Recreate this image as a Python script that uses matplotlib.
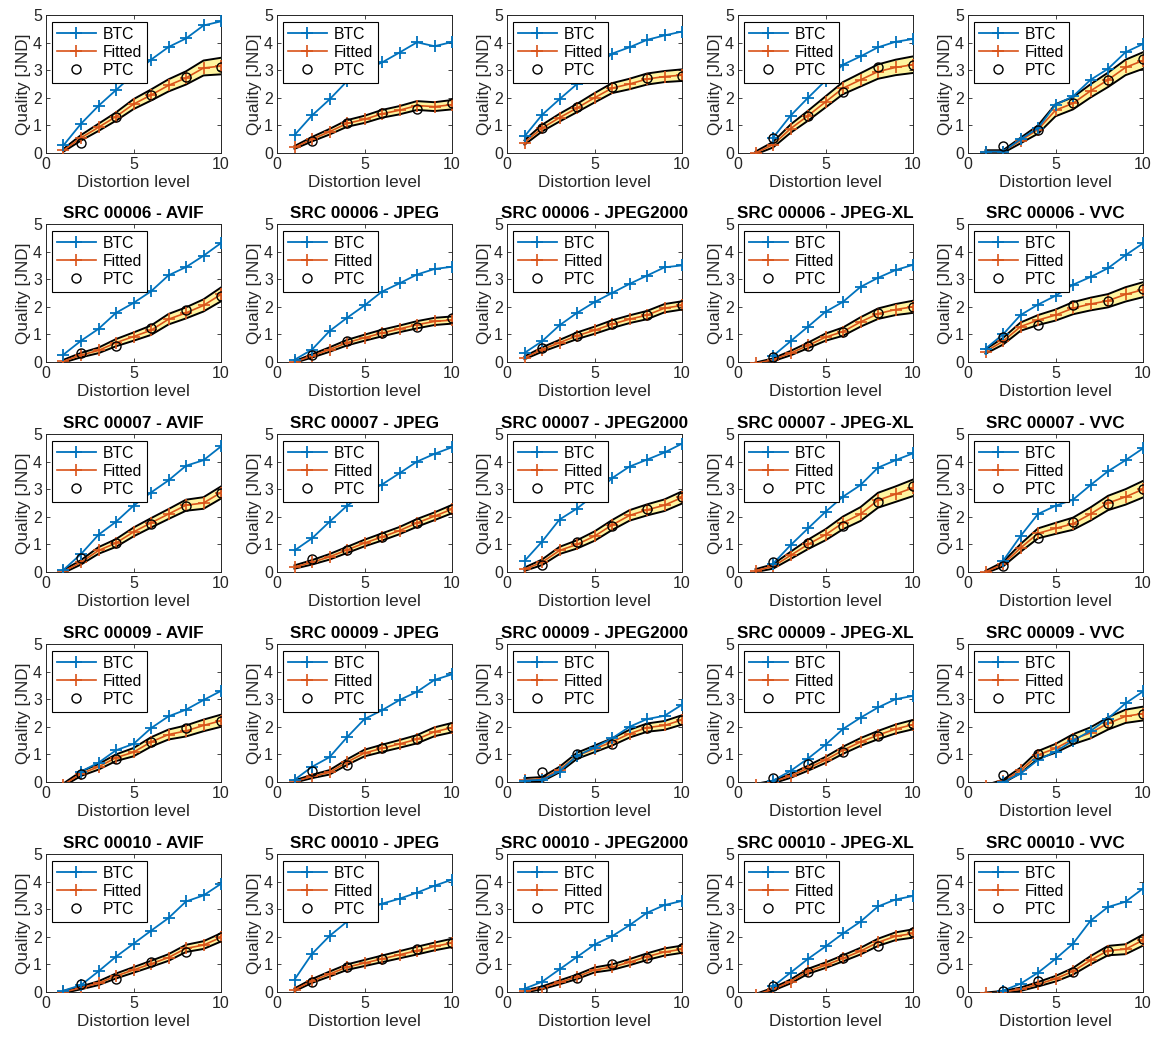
import numpy as np
import matplotlib
matplotlib.use('Agg')
import matplotlib.pyplot as plt

plt.rcParams['font.family'] = ['Liberation Sans', 'DejaVu Sans']

nan = np.nan

# ---------------- data ----------------
sources = [None, '00006', '00007', '00009', '00010']   # top row titles are cropped off
codecs = ['AVIF', 'JPEG', 'JPEG2000', 'JPEG-XL', 'VVC']
levels = [1, 2, 3, 4, 5, 6, 7, 8, 9, 10]
ptc_levels = [2, 4, 6, 8, 10]
x_ticks = [0, 5, 10]
y_ticks = [0, 1, 2, 3, 4, 5]

btc = [
    [[0.28, 1.06, 1.71, 2.28, 2.85, 3.38, 3.84, 4.15, 4.62, 4.77],
     [0.65, 1.36, 1.94, 2.60, 3.00, 3.28, 3.64, 4.01, 3.87, 4.02],
     [0.60, 1.38, 1.95, 2.50, 3.05, 3.60, 3.83, 4.10, 4.26, 4.40],
     [nan, 0.55, 1.35, 2.00, 2.62, 3.20, 3.50, 3.83, 4.03, 4.13],
     [0.05, 0.05, 0.50, 0.90, 1.75, 2.05, 2.65, 3.05, 3.65, 3.95]],
    [[0.27, 0.77, 1.20, 1.78, 2.14, 2.56, 3.14, 3.44, 3.85, 4.31],
     [0.08, 0.45, 1.12, 1.60, 2.05, 2.55, 2.85, 3.17, 3.37, 3.45],
     [0.33, 0.75, 1.33, 1.78, 2.17, 2.50, 2.83, 3.13, 3.43, 3.50],
     [nan, 0.22, 0.75, 1.28, 1.82, 2.18, 2.72, 3.05, 3.33, 3.52],
     [0.48, 1.00, 1.70, 2.08, 2.40, 2.80, 3.08, 3.40, 3.87, 4.30]],
    [[0.08, 0.65, 1.35, 1.82, 2.40, 2.88, 3.32, 3.85, 4.05, 4.55],
     [0.78, 1.22, 1.82, 2.40, 2.85, 3.17, 3.58, 4.00, 4.28, 4.52],
     [0.40, 1.10, 1.90, 2.30, 2.80, 3.40, 3.82, 4.07, 4.33, 4.65],
     [nan, 0.30, 0.97, 1.58, 2.18, 2.73, 3.15, 3.78, 4.05, 4.30],
     [nan, 0.40, 1.30, 2.10, 2.40, 2.62, 3.15, 3.65, 4.05, 4.48]],
    [[nan, 0.38, 0.70, 1.15, 1.38, 1.95, 2.38, 2.62, 2.97, 3.30],
     [0.08, 0.55, 0.90, 1.62, 2.28, 2.60, 2.97, 3.27, 3.70, 3.90],
     [0.05, 0.08, 0.38, 0.95, 1.25, 1.58, 2.00, 2.28, 2.40, 2.80],
     [nan, 0.05, 0.40, 0.85, 1.35, 1.92, 2.33, 2.70, 3.00, 3.12],
     [nan, 0.00, 0.30, 0.80, 1.10, 1.50, 1.85, 2.30, 2.85, 3.28]],
    [[0.05, 0.25, 0.75, 1.28, 1.75, 2.22, 2.68, 3.28, 3.50, 3.92],
     [0.45, 1.38, 2.03, 2.55, 2.95, 3.20, 3.38, 3.60, 3.85, 4.07],
     [0.12, 0.37, 0.82, 1.27, 1.72, 2.02, 2.42, 2.87, 3.15, 3.30],
     [nan, 0.20, 0.70, 1.20, 1.65, 2.12, 2.55, 3.10, 3.35, 3.48],
     [nan, 0.05, 0.30, 0.70, 1.20, 1.75, 2.58, 3.08, 3.27, 3.75]],
]

fitted = [
    [[0.10, 0.55, 0.93, 1.32, 1.77, 2.10, 2.45, 2.72, 3.08, 3.15],
     [0.20, 0.50, 0.77, 1.07, 1.22, 1.42, 1.55, 1.72, 1.68, 1.75],
     [0.38, 0.90, 1.28, 1.63, 2.00, 2.35, 2.50, 2.68, 2.77, 2.82],
     [0.00, 0.30, 0.88, 1.35, 1.85, 2.35, 2.65, 2.95, 3.10, 3.20],
     [0.05, 0.05, 0.45, 0.85, 1.55, 1.80, 2.25, 2.65, 3.10, 3.35]],
    [[0.03, 0.25, 0.42, 0.70, 0.92, 1.15, 1.55, 1.78, 2.05, 2.45],
     [0.00, 0.22, 0.45, 0.70, 0.88, 1.05, 1.20, 1.35, 1.47, 1.52],
     [0.15, 0.45, 0.70, 0.95, 1.15, 1.37, 1.55, 1.70, 1.95, 2.05],
     [-0.05, 0.08, 0.32, 0.60, 0.90, 1.10, 1.45, 1.75, 1.90, 2.00],
     [0.38, 0.75, 1.28, 1.52, 1.70, 1.95, 2.10, 2.22, 2.45, 2.62]],
    [[0.02, 0.35, 0.78, 1.05, 1.45, 1.78, 2.10, 2.42, 2.50, 2.88],
     [0.18, 0.35, 0.55, 0.80, 1.05, 1.27, 1.50, 1.78, 2.02, 2.28],
     [0.10, 0.35, 0.78, 1.00, 1.30, 1.70, 2.05, 2.25, 2.42, 2.70],
     [0.05, 0.20, 0.60, 1.00, 1.35, 1.78, 2.10, 2.60, 2.82, 3.05],
     [0.00, 0.28, 0.87, 1.40, 1.58, 1.75, 2.10, 2.50, 2.72, 3.00]],
    [[-0.10, 0.30, 0.55, 0.88, 1.08, 1.45, 1.72, 1.85, 2.05, 2.22],
     [0.02, 0.20, 0.35, 0.72, 1.05, 1.22, 1.38, 1.55, 1.82, 1.97],
     [0.08, 0.10, 0.45, 0.95, 1.20, 1.45, 1.75, 1.97, 2.05, 2.25],
     [-0.10, 0.00, 0.22, 0.50, 0.80, 1.15, 1.45, 1.70, 1.92, 2.08],
     [-0.15, 0.02, 0.42, 0.98, 1.22, 1.55, 1.78, 2.12, 2.38, 2.48]],
    [[0.00, 0.15, 0.32, 0.58, 0.80, 1.02, 1.25, 1.58, 1.70, 1.98],
     [0.08, 0.40, 0.65, 0.90, 1.05, 1.20, 1.35, 1.50, 1.65, 1.78],
     [0.02, 0.15, 0.35, 0.55, 0.80, 0.90, 1.08, 1.28, 1.45, 1.55],
     [-0.10, 0.10, 0.38, 0.75, 0.97, 1.22, 1.48, 1.80, 2.02, 2.12],
     [-0.05, 0.00, 0.10, 0.28, 0.48, 0.75, 1.15, 1.50, 1.55, 1.88]],
]

ptc = [
    [[0.35, 1.30, 2.10, 2.75, 3.10],
     [0.45, 1.07, 1.45, 1.60, 1.82],
     [0.90, 1.65, 2.38, 2.70, 2.80],
     [0.55, 1.35, 2.20, 3.10, 3.20],
     [0.25, 0.85, 1.80, 2.65, 3.40]],
    [[0.33, 0.58, 1.22, 1.88, 2.40],
     [0.27, 0.75, 1.05, 1.27, 1.60],
     [0.50, 0.95, 1.37, 1.72, 2.08],
     [0.18, 0.58, 1.10, 1.78, 2.00],
     [0.90, 1.35, 2.05, 2.20, 2.63]],
    [[0.50, 1.05, 1.75, 2.40, 2.85],
     [0.48, 0.78, 1.27, 1.77, 2.28],
     [0.27, 1.10, 1.68, 2.28, 2.70],
     [0.37, 1.05, 1.68, 2.55, 3.12],
     [0.22, 1.25, 1.82, 2.48, 3.00]],
    [[0.30, 0.82, 1.45, 1.95, 2.22],
     [0.40, 0.62, 1.25, 1.55, 2.00],
     [0.35, 1.00, 1.38, 1.97, 2.25],
     [0.15, 0.65, 1.10, 1.65, 2.10],
     [0.25, 1.00, 1.55, 2.15, 2.48]],
    [[0.28, 0.48, 1.10, 1.45, 2.00],
     [0.38, 0.90, 1.20, 1.55, 1.78],
     [0.08, 0.50, 1.00, 1.22, 1.60],
     [0.20, 0.72, 1.22, 1.68, 2.18],
     [0.05, 0.40, 0.72, 1.50, 1.92]],
]

band_halfwidth = [
    [[0.05, 0.10, 0.13, 0.15, 0.18, 0.20, 0.22, 0.24, 0.27, 0.30],
     [0.05, 0.08, 0.10, 0.12, 0.13, 0.14, 0.15, 0.16, 0.16, 0.17],
     [0.08, 0.12, 0.14, 0.15, 0.17, 0.18, 0.19, 0.20, 0.20, 0.21],
     [0.05, 0.10, 0.15, 0.18, 0.20, 0.22, 0.24, 0.26, 0.28, 0.30],
     [0.05, 0.05, 0.10, 0.15, 0.22, 0.22, 0.24, 0.26, 0.28, 0.30]],
    [[0.05, 0.08, 0.10, 0.13, 0.15, 0.17, 0.19, 0.20, 0.22, 0.25],
     [0.03, 0.06, 0.08, 0.10, 0.11, 0.12, 0.12, 0.13, 0.13, 0.13],
     [0.05, 0.08, 0.10, 0.12, 0.13, 0.14, 0.14, 0.15, 0.15, 0.15],
     [0.03, 0.05, 0.08, 0.10, 0.13, 0.15, 0.17, 0.19, 0.20, 0.22],
     [0.08, 0.12, 0.15, 0.18, 0.20, 0.22, 0.23, 0.24, 0.26, 0.27]],
    [[0.05, 0.08, 0.12, 0.14, 0.16, 0.17, 0.18, 0.20, 0.21, 0.22],
     [0.06, 0.08, 0.10, 0.11, 0.12, 0.13, 0.13, 0.14, 0.14, 0.15],
     [0.06, 0.10, 0.13, 0.15, 0.17, 0.18, 0.19, 0.20, 0.21, 0.22],
     [0.05, 0.08, 0.13, 0.17, 0.20, 0.23, 0.25, 0.27, 0.28, 0.30],
     [0.04, 0.08, 0.14, 0.18, 0.20, 0.22, 0.24, 0.26, 0.28, 0.30]],
    [[0.05, 0.08, 0.10, 0.12, 0.15, 0.17, 0.18, 0.20, 0.21, 0.22],
     [0.04, 0.06, 0.08, 0.10, 0.12, 0.13, 0.14, 0.15, 0.16, 0.17],
     [0.06, 0.08, 0.10, 0.11, 0.12, 0.13, 0.14, 0.15, 0.16, 0.17],
     [0.03, 0.05, 0.07, 0.09, 0.11, 0.13, 0.14, 0.15, 0.16, 0.17],
     [0.04, 0.06, 0.10, 0.14, 0.16, 0.18, 0.20, 0.22, 0.24, 0.25]],
    [[0.04, 0.05, 0.07, 0.09, 0.10, 0.11, 0.12, 0.13, 0.14, 0.15],
     [0.05, 0.07, 0.09, 0.10, 0.11, 0.12, 0.13, 0.14, 0.14, 0.15],
     [0.04, 0.05, 0.07, 0.08, 0.09, 0.10, 0.11, 0.12, 0.13, 0.13],
     [0.03, 0.05, 0.07, 0.09, 0.10, 0.11, 0.12, 0.13, 0.14, 0.15],
     [0.03, 0.04, 0.06, 0.08, 0.10, 0.12, 0.15, 0.17, 0.18, 0.20]],
]

# ---------------- style ----------------
BLUE = '#0072BD'
ORANGE = '#D95319'
BAND = '#FFF5A0'
AXC = '#262626'

W, H = 1154, 1040
fig = plt.figure(figsize=(W / 100, H / 100), dpi=100)

col_left = [46, 277, 507, 738, 968]
row_top = [15, 224, 434, 644, 854]
ax_w, ax_h = 175, 138

for r in range(5):
    for c in range(5):
        ax = fig.add_axes([col_left[c] / W, 1 - (row_top[r] + ax_h) / H, ax_w / W, ax_h / H])
        f = np.array(fitted[r][c])
        hw = np.array(band_halfwidth[r][c])
        lo, hi = f - hw, f + hw
        ax.fill_between(levels, lo, hi, color=BAND, lw=0, zorder=1)
        ax.plot(levels, lo, color='black', lw=1.4, zorder=2)
        ax.plot(levels, hi, color='black', lw=1.4, zorder=2)
        h_fit, = ax.plot(levels, f, color=ORANGE, lw=1.2, marker='+', ms=8, mew=1.2, zorder=3)
        h_btc, = ax.plot(levels, btc[r][c], color=BLUE, lw=1.3, marker='+', ms=8, mew=1.3, zorder=4)
        h_ptc, = ax.plot(ptc_levels, ptc[r][c], ls='none', marker='o', ms=6.5, mfc='none',
                         mec='black', mew=1.0, zorder=5)

        ax.set_xlim(0, 10)
        ax.set_ylim(0, 5)
        ax.set_xticks(x_ticks)
        ax.set_yticks(y_ticks)
        ax.tick_params(direction='in', top=True, right=True, length=3, width=0.6,
                       labelsize=11.5, colors=AXC, pad=3)
        for s in ax.spines.values():
            s.set_color(AXC)
            s.set_linewidth(0.7)
        ax.set_xlabel('Distortion level', fontsize=12.3, color=AXC, labelpad=2)
        ax.set_ylabel('Quality [JND]', fontsize=12.3, color=AXC, labelpad=1)
        if sources[r] is not None:
            ax.set_title(f'SRC {sources[r]} - {codecs[c]}', fontsize=12.3, fontweight='bold',
                         color='black', pad=4)
        leg = ax.legend([h_btc, h_fit, h_ptc], ['BTC', 'Fitted', 'PTC'], loc='upper left',
                        bbox_to_anchor=(0.034, 0.95), borderaxespad=0, fontsize=11.3,
                        handlelength=2.5, handletextpad=0.45, labelspacing=0.2,
                        borderpad=0.3, fancybox=False, framealpha=1, edgecolor='black')
        leg.get_frame().set_linewidth(0.8)
        leg.set_zorder(10)

fig.savefig('out.png', dpi=100)
